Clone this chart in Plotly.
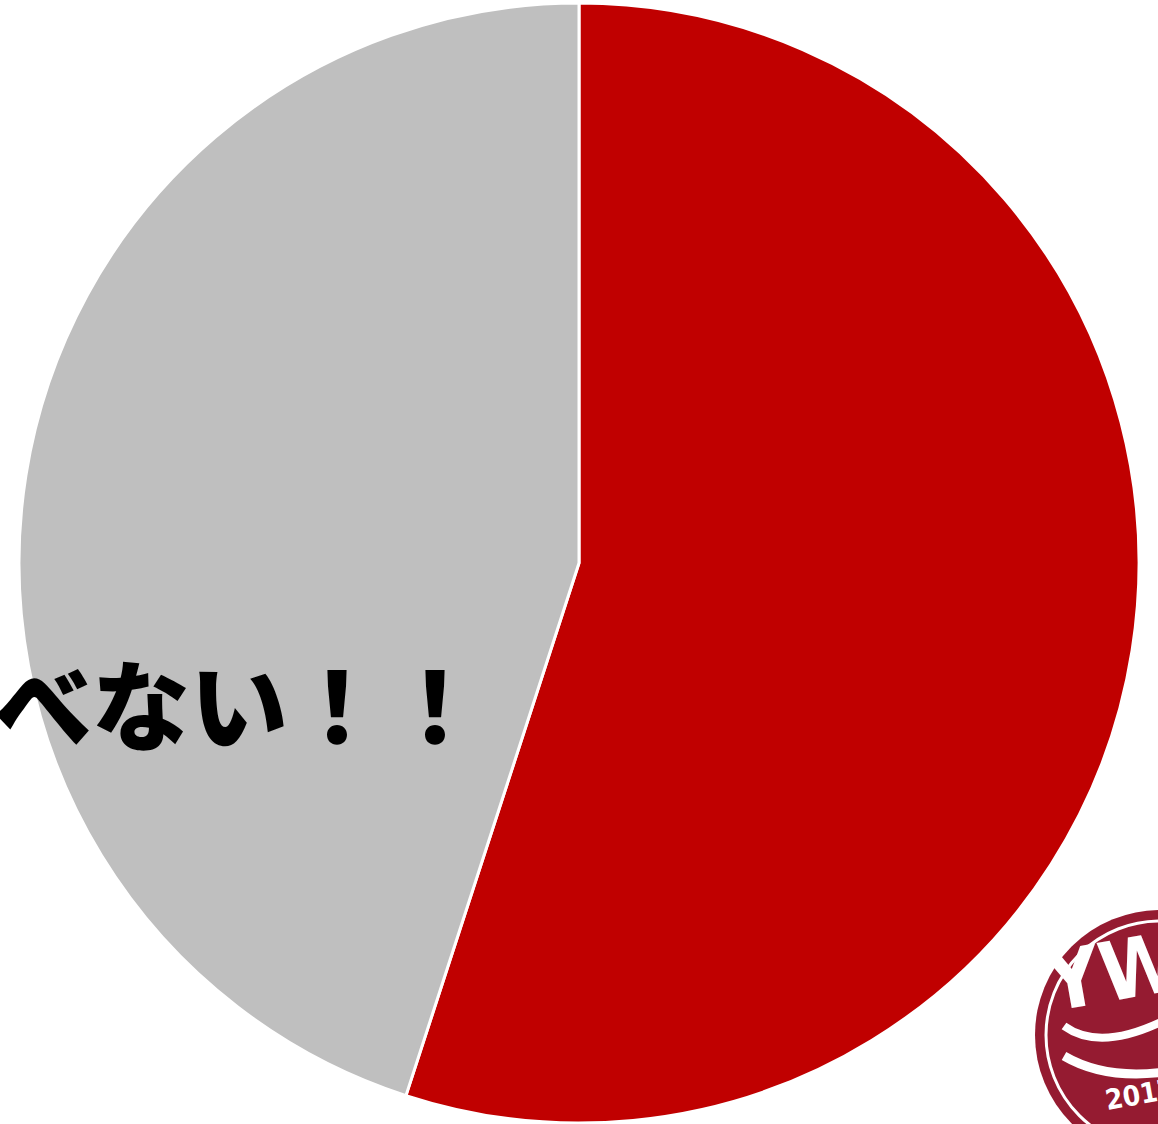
import plotly.graph_objects as go

# Survey split: red = the other answer, gray = "たべない！！"
labels = ["たべる", "たべない！！"]
values = [55, 45]
colors = ["#C00000", "#BFBFBF"]

W, H = 1158, 1124
M_T, M_B = 3, 1


def px(x):
    return x / W


def py(y):
    return (H - M_B - y) / (H - M_T - M_B)


fig = go.Figure(
    go.Pie(
        labels=labels,
        values=values,
        sort=False,
        direction="clockwise",
        rotation=0,
        marker=dict(colors=colors, line=dict(color="white", width=3)),
        textinfo="none",
        hoverinfo="label+percent",
        showlegend=False,
    )
)

# Label for the gray slice, drawn large over the slice
fig.add_annotation(
    x=px(486), y=py(700), xref="paper", yref="paper",
    xanchor="right", yanchor="middle",
    text=labels[1], showarrow=False,
    font=dict(family="Noto Sans CJK JP", size=98, color="black", weight=800),
)

# Round badge in the bottom-right corner
cx, cy, r = 1160, 1035, 125
badge = "#951B31"
fig.add_shape(type="circle", xref="paper", yref="paper",
              x0=px(cx - r), x1=px(cx + r), y0=py(cy + r), y1=py(cy - r),
              fillcolor=badge, line=dict(width=0), layer="above")
r2 = r - 11
fig.add_shape(type="circle", xref="paper", yref="paper",
              x0=px(cx - r2), x1=px(cx + r2), y0=py(cy + r2), y1=py(cy - r2),
              fillcolor=badge, line=dict(color="white", width=3), layer="above")


def curve(p0, c, p1):
    return f"M {px(p0[0])},{py(p0[1])} Q {px(c[0])},{py(c[1])} {px(p1[0])},{py(p1[1])}"


# fish outline arcs
fig.add_shape(type="path", xref="paper", yref="paper",
              path=curve((1064, 1026), (1100, 1052), (1165, 1020)),
              line=dict(color="white", width=8), layer="above")
fig.add_shape(type="path", xref="paper", yref="paper",
              path=curve((1064, 1056), (1105, 1080), (1165, 1072)),
              line=dict(color="white", width=9), layer="above")

fig.add_annotation(x=px(1138), y=py(968), xref="paper", yref="paper",
                   xanchor="center", yanchor="middle",
                   text="YWT", showarrow=False, textangle=-10,
                   font=dict(family="DejaVu Sans Condensed", size=82,
                             color="white", weight="bold"))
fig.add_annotation(x=px(1140), y=py(1094), xref="paper", yref="paper",
                   xanchor="center", yanchor="middle",
                   text="2017", showarrow=False, textangle=-10,
                   font=dict(family="DejaVu Sans Condensed", size=28, color="white", weight="bold"))

fig.update_layout(
    width=W, height=H,
    margin=dict(l=0, r=0, t=M_T, b=M_B),
    paper_bgcolor="white",
    plot_bgcolor="white",
)

fig.write_html("out.html")
